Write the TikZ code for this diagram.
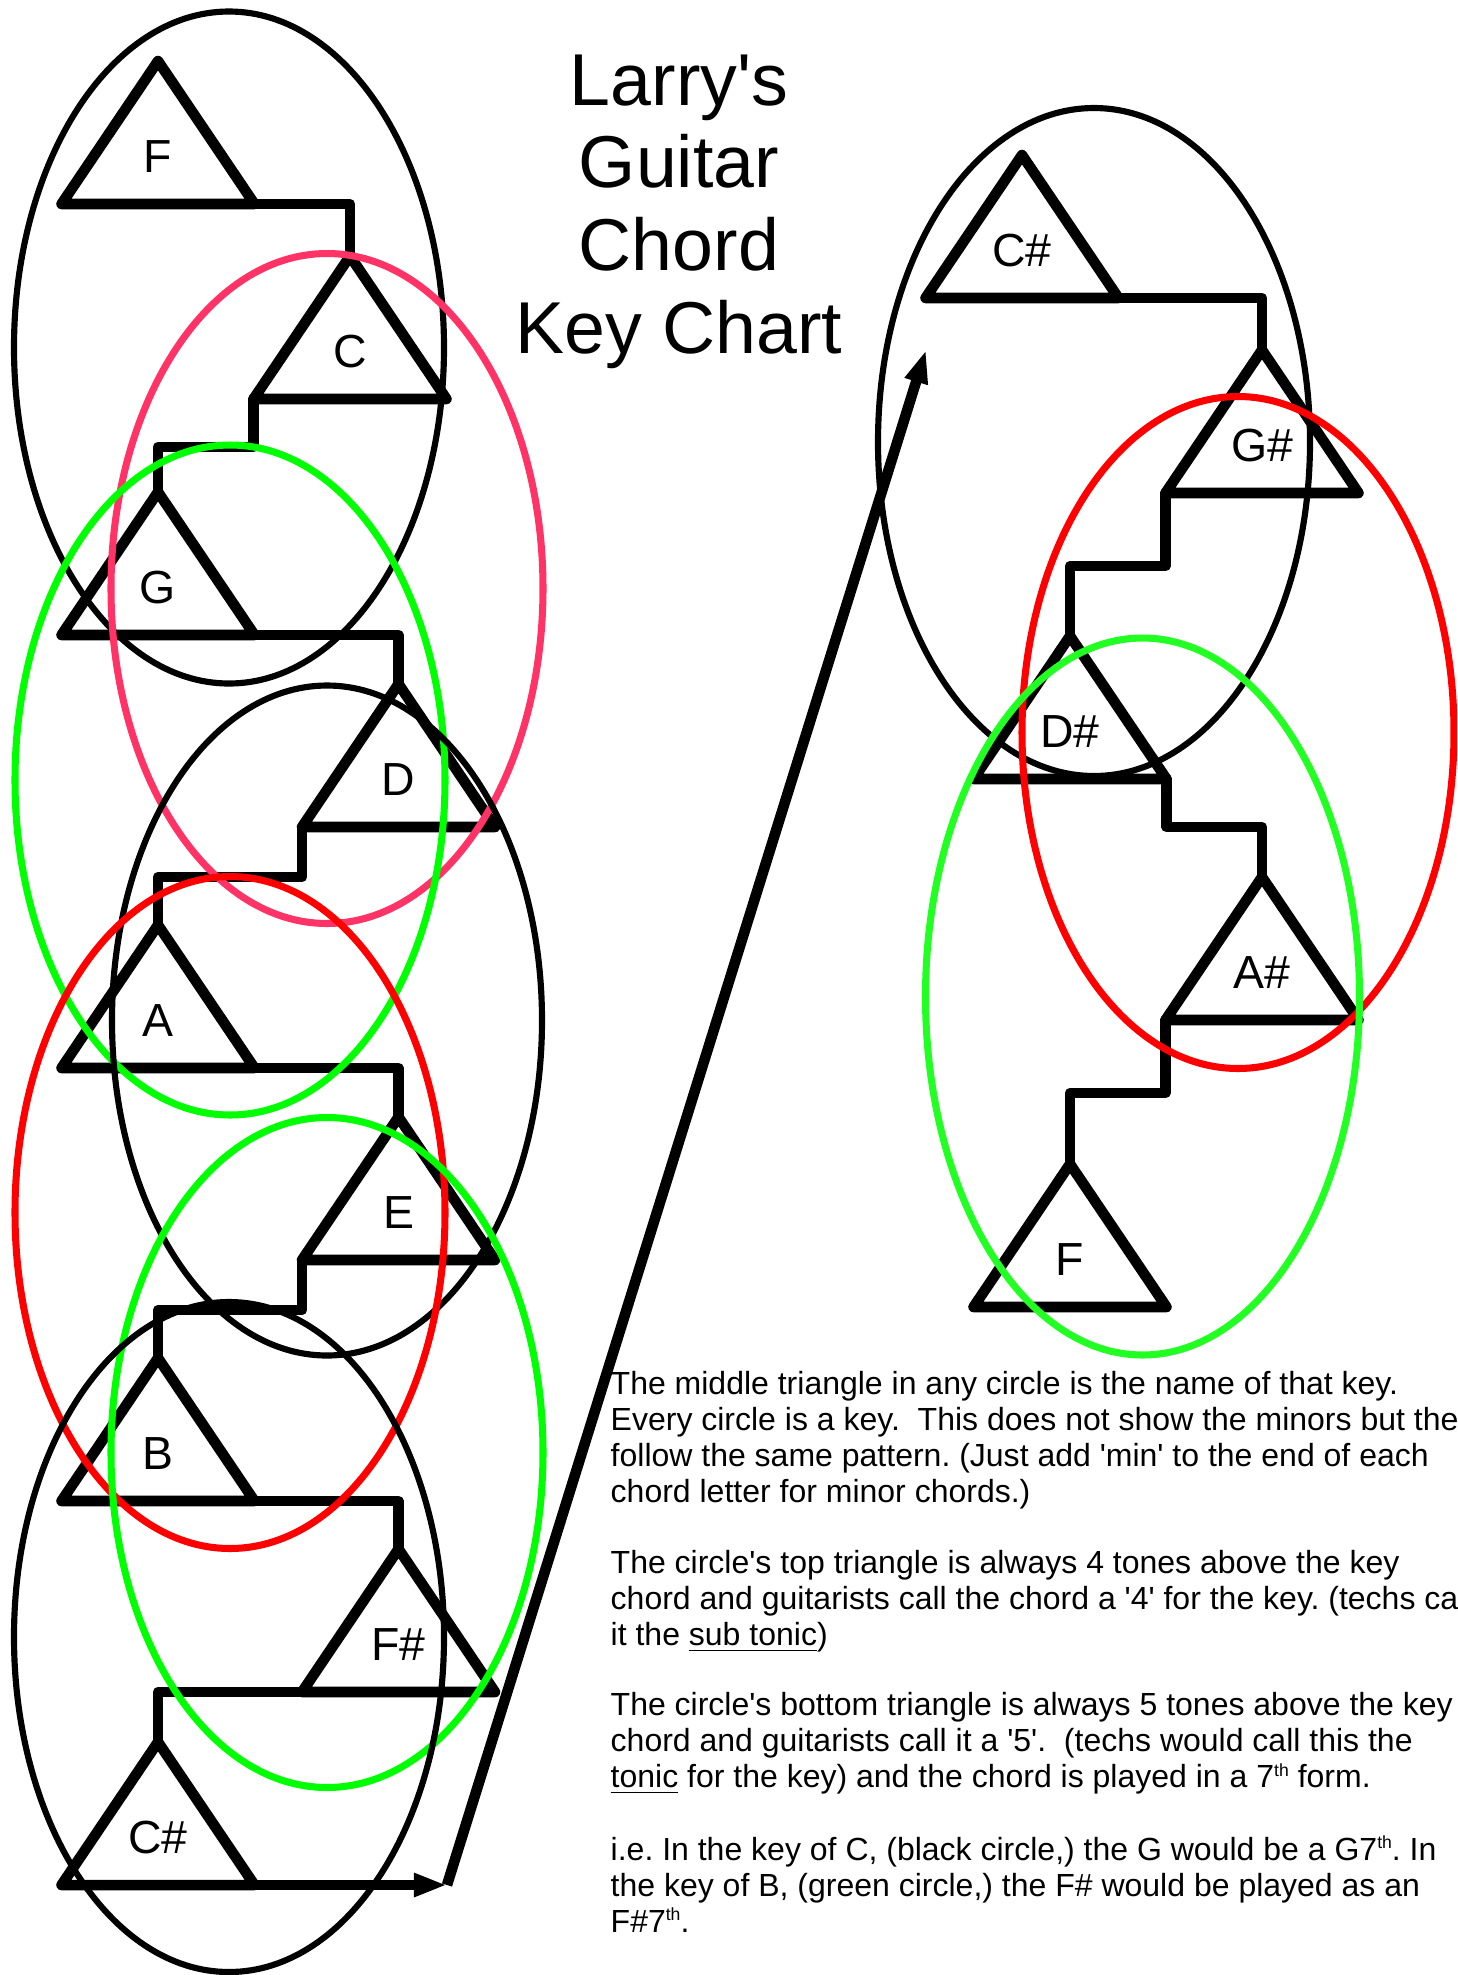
\documentclass[tikz,border=0pt]{standalone}
\usepackage{fontspec}
\newfontfamily\lsans{Liberation Sans}
\usetikzlibrary{arrows.meta}
\definecolor{pinkline}{HTML}{FF3366}
\definecolor{redline}{HTML}{FF0000}
\definecolor{greenline}{HTML}{00FF00}
\definecolor{greenlite}{HTML}{22FF22}
\newcommand\smallsup[1]{\raisebox{0.36em}{\fontsize{5}{6}\selectfont #1}}
\newcommand\chordtri[4]{%
  \coordinate (#1-ap) at (#2,#3);
  \coordinate (#1-bl) at ([shift={(-96.5,143)}]#2,#3);
  \coordinate (#1-br) at ([shift={(96.5,143)}]#2,#3);
  \draw[tri] (#1-ap) -- (#1-bl) -- (#1-br) -- cycle;
  \node[lab] (#1) at ([shift={(0,111)}]#2,#3) {#4};
}
\begin{document}
\begin{tikzpicture}[x=0.01cm,y=-0.01cm,
  tri/.style={line width=3pt,line join=round,line cap=round},
  conn/.style={line width=3pt,line join=round,line cap=round},
  ovalk/.style={line width=1.75pt,draw=black},
  ovalc/.style={line width=2pt},
  lab/.style={font=\lsans\fontsize{13.2}{15}\selectfont,inner sep=0pt,anchor=base},
  ttl/.style={font=\lsans\fontsize{20.9}{23.5}\selectfont,inner sep=0pt,anchor=base},
  txt/.style={font=\lsans\fontsize{9.1}{10.2}\selectfont\frenchspacing,inner sep=0pt,anchor=base west},
  arr/.style={line width=3pt,-{Triangle[length=0.33cm,width=0.22cm]}}
]
\useasboundingbox (0,0) rectangle (1457,1975);
\clip (0,0) rectangle (1457,1975);

% left column triangles
\chordtri{lF}{158}{61}{F}
\chordtri{lC}{350}{256}{C}
\chordtri{lG}{158}{492}{G}
\chordtri{lD}{398.5}{684}{D}
\chordtri{lA}{158}{925}{A}
\chordtri{lE}{398.5}{1117}{E}
\chordtri{lB}{158}{1358}{B}
\chordtri{lFs}{398.5}{1549}{F\#}
\chordtri{lCs}{158}{1742}{C\#}

% right column triangles
\chordtri{rCs}{1022}{155}{C\#}
\chordtri{rGs}{1262}{350}{G\#}
\chordtri{rDs}{1070}{636}{D\#}
\chordtri{rAs}{1262}{877}{A\#}
\chordtri{rF}{1070}{1164}{F}

% left connectors
\draw[conn] (lF-br) -| (lC-ap);
\draw[conn] (lC-bl) -- ++(0,48) -| (lG-ap);
\draw[conn] (lG-br) -| (lD-ap);
\draw[conn] (lD-bl) -- ++(0,50) -| (lA-ap);
\draw[conn] (lA-br) -| (lE-ap);
\draw[conn] (lE-bl) -- ++(0,50) -| (lB-ap);
\draw[conn] (lB-br) -| (lFs-ap);
\draw[conn] (lFs-bl) -| (lCs-ap);

% right connectors
\draw[conn] (rCs-br) -| (rGs-ap);
\draw[conn] (rGs-bl) -- ++(0,73) -| (rDs-ap);
\draw[conn] (rDs-br) -- ++(0,48) -| (rAs-ap);
\draw[conn] (rAs-bl) -- ++(0,73) -| (rF-ap);

% long arrow from bottom left to top right
\coordinate (turn) at (447,1885);
\coordinate (top) at (926,350);
\draw[arr] (lCs-br) -- (turn);
\draw[arr] (turn) -- (top);

% key ellipses, left column
\draw[ovalk] (229,347.5) ellipse [x radius=215, y radius=336];
\draw[ovalc,draw=pinkline] (327,588.5) ellipse [x radius=216, y radius=335];
\draw[ovalc,draw=greenline] (230,780) ellipse [x radius=215, y radius=335];
\draw[ovalk] (327,1020.5) ellipse [x radius=215, y radius=335];
\draw[ovalc,draw=redline] (230,1212.5) ellipse [x radius=215, y radius=336];
\draw[ovalc,draw=greenline] (327,1452.5) ellipse [x radius=216, y radius=335];
\draw[ovalk] (229,1637) ellipse [x radius=215, y radius=335];

% key ellipses, right column
\draw[ovalk] (1094,442) ellipse [x radius=216, y radius=334];
\draw[ovalc,draw=redline] (1238,732.5) ellipse [x radius=216, y radius=336];
\draw[ovalc,draw=greenlite] (1142.5,996.5) ellipse [x radius=217, y radius=358.5];

% title
\node[ttl] (t1) at (679,105) {Larry's};
\node[ttl] (t2) at (679,187) {Guitar};
\node[ttl] (t3) at (679,270) {Chord};
\node[ttl] (t4) at (679,353) {Key Chart};

% explanation text
\node[txt] (b1) at (610,1394) {The middle triangle in any circle is the name of that key.};
\node[txt] (b2) at (610,1430) {Every circle is a key.\ \ This does not show the minors but they};
\node[txt] (b3) at (610,1466) {follow the same pattern. (Just add 'min' to the end of each};
\node[txt] (b4) at (610,1502) {chord letter for minor chords.)};
\node[txt] (b5) at (610,1573) {The circle's top triangle is always 4 tones above the key};
\node[txt] (b6) at (610,1609) {chord and guitarists call the chord a '4' for the key. (techs call};
\node[txt] (b7) at (610,1645) {it the \underline{sub tonic})};
\node[txt] (b8) at (610,1715.5) {The circle's bottom triangle is always 5 tones above the key};
\node[txt] (b9) at (610,1751.5) {chord and guitarists call it a '5'.\ \ (techs would call this the};
\node[txt] (b10) at (610,1787.5) {\underline{tonic} for the key) and the chord is played in a 7\smallsup{th} form.};
\node[txt] (b11) at (610,1860) {i.e. In the key of C, (black circle,) the G would be a G7\smallsup{th}. In};
\node[txt] (b12) at (610,1896) {the key of B, (green circle,) the F\# would be played as an};
\node[txt] (b13) at (610,1932) {F\#7\smallsup{th}.};
\end{tikzpicture}
\end{document}
